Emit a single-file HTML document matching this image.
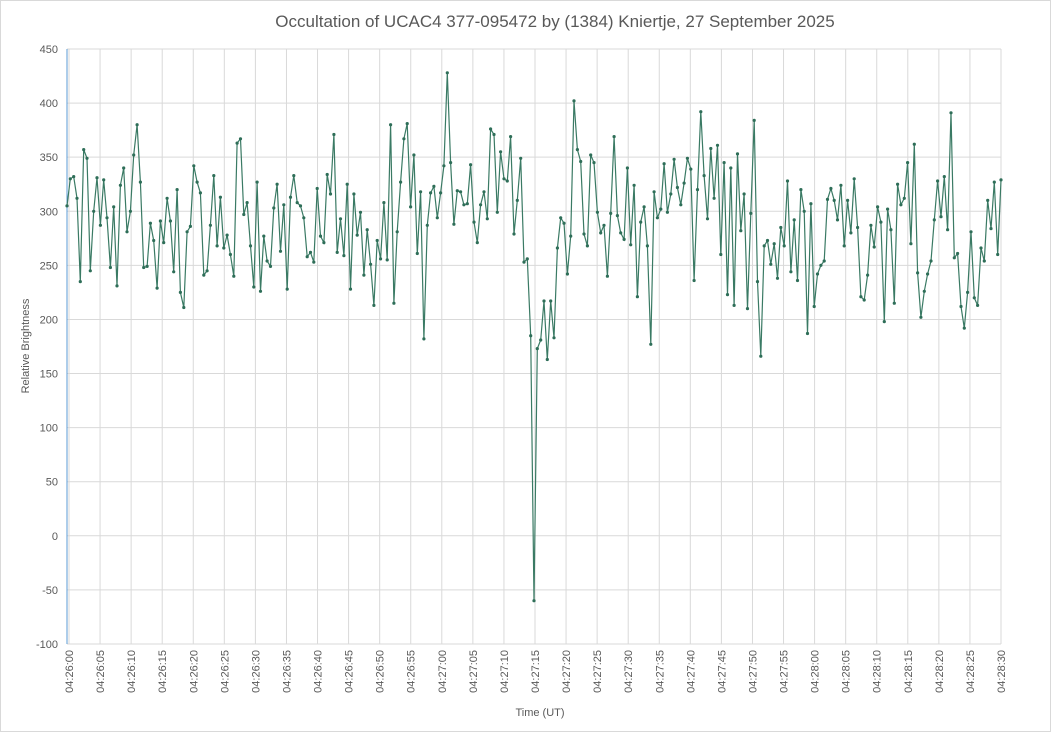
<!DOCTYPE html>
<html><head><meta charset="utf-8"><style>
body{margin:0;background:#fff}
svg{display:block;font-family:"Liberation Sans",sans-serif}
</style></head><body>
<svg id="c" width="1051" height="732" xmlns="http://www.w3.org/2000/svg">
<rect x="0.5" y="0.5" width="1050" height="731" fill="#fff" stroke="#d9d9d9"/>
<text x="555" y="27" text-anchor="middle" font-size="17" fill="#595959">Occultation of UCAC4 377-095472 by (1384) Kniertje, 27 September 2025</text>
<text transform="translate(29,346) rotate(-90)" text-anchor="middle" font-size="11" fill="#595959">Relative Brightness</text>
<text x="540" y="716" text-anchor="middle" font-size="11" fill="#595959">Time (UT)</text>
<g id="g"></g>
</svg>
<script>
var g=document.getElementById('g'),ns='http://www.w3.org/2000/svg',s='';
function Y(v){return 535.8-v*1.0818;}
var L=67,R=1001;
for(var v=-100;v<=450;v+=50){var y=Y(v);s+='<line x1="'+L+'" x2="'+R+'" y1="'+y+'" y2="'+y+'" stroke="#d9d9d9"/>';
s+='<text x="58" y="'+(y+4)+'" text-anchor="end" font-size="11" fill="#595959">'+v+'</text>';}
for(var i=0;i<=30;i++){var x=69+i*(R-69)/30;s+='<line x1="'+x+'" x2="'+x+'" y1="49" y2="644" stroke="#d9d9d9"/>';
var t=i*5,m=26+Math.floor(t/60),sec=t%60;var lab='04:'+m+':'+(sec<10?'0':'')+sec;
s+='<text transform="translate('+(x+4)+',650) rotate(-90)" text-anchor="end" font-size="11" fill="#595959">'+lab+'</text>';}
s+='<line x1="'+L+'" x2="'+L+'" y1="49" y2="644" stroke="#5b9bd5"/>';
var d=[305,330,332,312,235,357,349,245,300,331,287,329,294,248,304,231,324,340,281,300,352,
380,327,248,249,289,273,229,291,271,312,291,244,320,225,211,281,286,342,327,317,
241,245,287,333,268,313,266,278,260,240,363,367,297,308,268,230,327,226,277,254,
249,303,325,263,306,228,313,333,308,305,294,258,262,253,321,277,271,334,316,371,
262,293,259,325,228,316,278,299,241,283,251,213,273,256,308,255,380,215,281,327,
367,381,304,352,261,318,182,287,317,323,294,317,342,
428,345,288,319,318,306,307,343,290,271,306,318,293,376,371,299,355,330,328,369,
279,310,349,253,256,185,-60,173,181,217,163,217,183,266,294,289,242,277,402,357,
346,279,268,352,345,299,280,287,240,298,369,296,280,274,340,269,324,221,290,304,
268,177,318,294,302,344,299,316,348,322,306,326,349,339,236,320,392,333,293,358,
312,361,260,345,223,340,213,353,282,316,210,298,384,235,166,268,273,251,270,238,
285,268,328,244,292,236,320,300,187,307,212,242,250,254,311,321,310,292,324,268,
310,280,330,285,221,218,241,287,267,304,290,198,302,283,215,325,306,312,345,270,
362,243,202,226,242,254,292,328,295,332,283,391,257,261,212,192,225,281,220,213,
266,254,310,284,327,260,329];
var n=d.length,p='',c='';
for(var i=0;i<n;i++){var x=L+i*(R-L)/(n-1),y=Y(d[i]);p+=(i?'L':'M')+x.toFixed(1)+' '+y.toFixed(1);
c+='<circle cx="'+x.toFixed(1)+'" cy="'+y.toFixed(1)+'" r="1.6" fill="#2e6e58"/>';}
s+='<path d="'+p+'" fill="none" stroke="#3a7a64" stroke-width="1.2"/>'+c;
g.innerHTML=s;
</script>
</body></html>
